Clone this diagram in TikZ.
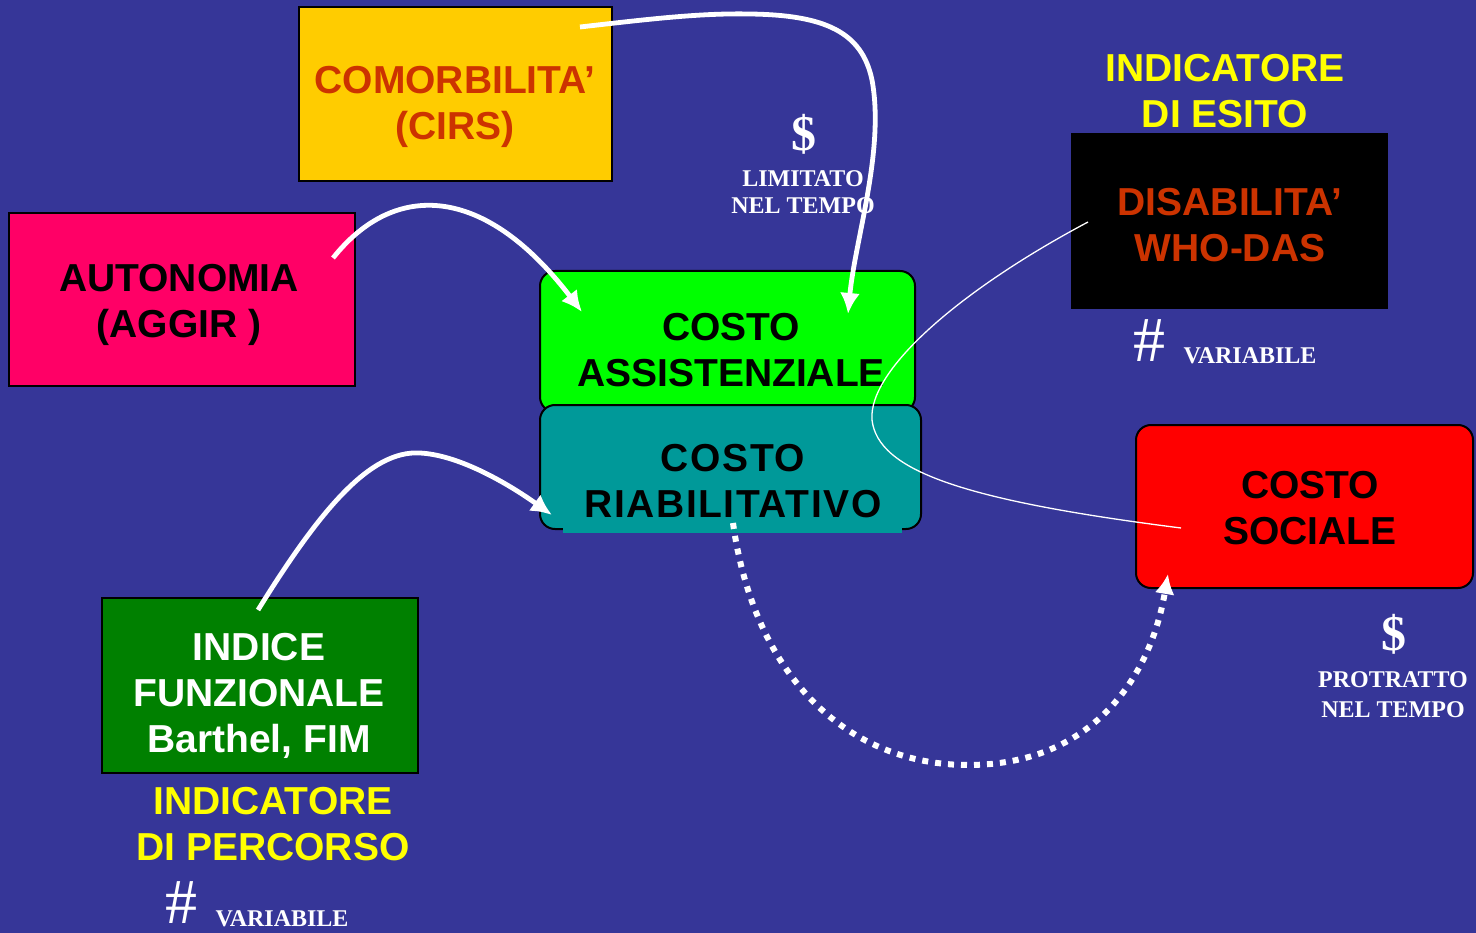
\documentclass[tikz,border=0pt]{standalone}
\usepackage{fontspec}
\setmainfont{Liberation Serif}
\newfontfamily\boxfont{Liberation Sans}
\newfontfamily\widefont{Liberation Sans}[LetterSpace=4]
\usetikzlibrary{arrows.meta}
\definecolor{bgblue}{RGB}{54,54,152}
\definecolor{comorbyellow}{RGB}{255,204,0}
\definecolor{rustred}{RGB}{204,51,0}
\definecolor{autonpink}{RGB}{255,0,102}
\definecolor{assistgreen}{RGB}{0,255,0}
\definecolor{riabteal}{RGB}{0,153,153}
\definecolor{indicegreen}{RGB}{0,128,0}
\definecolor{labelyellow}{RGB}{255,255,0}

\begin{document}
\begin{tikzpicture}[x=1pt, y=-1pt,
		box/.style={draw=black, line width=2pt, inner sep=0pt},
		costbox/.style={box, rounded corners=15pt},
		bigtext/.style={font=\boxfont\bfseries\fontsize{39}{46}\selectfont, align=center},
		note/.style={font=\bfseries\fontsize{24}{27}\selectfont, text=white, align=center},
		money/.style={font=\bfseries\fontsize{50}{50}\selectfont, text=white, inner sep=0pt},
		hash/.style={font=\fontsize{64}{64}\selectfont, text=white, inner sep=0pt},
		arrow/.style={white, line width=4.8pt, -{Latex[length=21pt, width=20pt]}},
		dotarrow/.style={white, line width=6pt, dash pattern=on 6pt off 7pt, -{Latex[length=20pt, width=20pt]}}]
		\fill [bgblue] (0,0) rectangle (1476,933);
		\useasboundingbox (0,0) rectangle (1476,933);
		
		\node [box, fill=comorbyellow, minimum width=313, minimum height=174] (comorb) at (455.5,94) {};
		\node [box, fill=autonpink, minimum width=346, minimum height=173] (auton) at (182,299.5) {};
		\node [costbox, fill=assistgreen, minimum width=375, minimum height=141] (assist) at (727.5,341.5) {};
		\node [costbox, fill=riabteal, minimum width=381, minimum height=124] (riab) at (730.5,467) {};
		\fill [riabteal] (563,522) rectangle (902,533);
		\node [fill=black, inner sep=0pt, minimum width=317, minimum height=176] (disab) at (1229.5,221) {};
		\node [costbox, fill=red, minimum width=337, minimum height=163] (social) at (1304.5,506.5) {};
		\node [box, fill=indicegreen, minimum width=316, minimum height=175] (indice) at (260,685.5) {};
		
		\node [bigtext, text=rustred] (comorb-text) at (455,107) {COMORBILITA’\\(CIRS)};
		\node [bigtext] (auton-text) at (179,305) {AUTONOMIA\\(AGGIR )};
		\node [bigtext] (assist-text) at (731,350) {COSTO\\ASSISTENZIALE};
		\node [bigtext, font=\widefont\bfseries\fontsize{39}{46}\selectfont] (riab-text) at (733,481) {COSTO\\RIABILITATIVO};
		\node [bigtext, text=rustred] (disab-text) at (1230,225) {DISABILITA’\\WHO-DAS};
		\node [bigtext] (social-text) at (1310,508) {COSTO\\SOCIALE};
		\node [bigtext, text=white] (indice-text) at (259,696) {INDICE\\FUNZIONALE\\Barthel, FIM};
		\node [bigtext, text=labelyellow] (esito-label) at (1225,91) {INDICATORE\\DI ESITO};
		\node [bigtext, text=labelyellow] (percorso-label) at (273,824) {INDICATORE\\DI PERCORSO};
		
		\node [money] (assist-dollar) at (804,134) {\$};
		\node [note] (assist-note) at (803,192) {LIMITATO\\NEL TEMPO};
		\node [money] (social-dollar) at (1394,634) {\$};
		\node [note, font=\bfseries\fontsize{24}{30}\selectfont] (social-note) at (1393,695) {PROTRATTO\\NEL TEMPO};
		\node [hash] (disab-hash) at (1149,341) {\#};
		\node [note, inner sep=0pt] (disab-note) at (1250,356) {VARIABILE};
		\node [hash] (indice-hash) at (181,903) {\#};
		\node [note, inner sep=0pt] (indice-note) at (282,919) {VARIABILE};
		
		\coordinate (comorb-out) at (580,27);
		\coordinate (assist-in1) at (848,314);
		\coordinate (auton-out) at (333,258);
		\coordinate (assist-in2) at (582,312);
		\coordinate (indice-out) at (258,610);
		\coordinate (riab-in) at (552,515);
		\coordinate (riab-out) at (733,523);
		\coordinate (social-in) at (1168,574);
		\coordinate (disab-out) at (1088,222);
		\coordinate (social-end) at (1181,528);
		
		\draw [arrow] (comorb-out) .. controls (650,19) and (700,13) .. (750,14) .. controls (825,15) and (862,32) .. (872,80) .. controls (885,150) and (855,240) .. (assist-in1);
		\draw [arrow] (auton-out) .. controls (395,180) and (485,185) .. (assist-in2);
		\draw [arrow] (indice-out) .. controls (320,510) and (370,450) .. (420,453) .. controls (460,455) and (510,485) .. (riab-in);
		\draw [dotarrow] (riab-out) .. controls (755,680) and (850,765) .. (968,765) .. controls (1090,765) and (1150,680) .. (social-in);
		\draw [white, line width=1.3pt] (disab-out) .. controls (960,290) and (868,370) .. (872,420) .. controls (878,470) and (960,500) .. (social-end);
	\end{tikzpicture}
\end{document}
